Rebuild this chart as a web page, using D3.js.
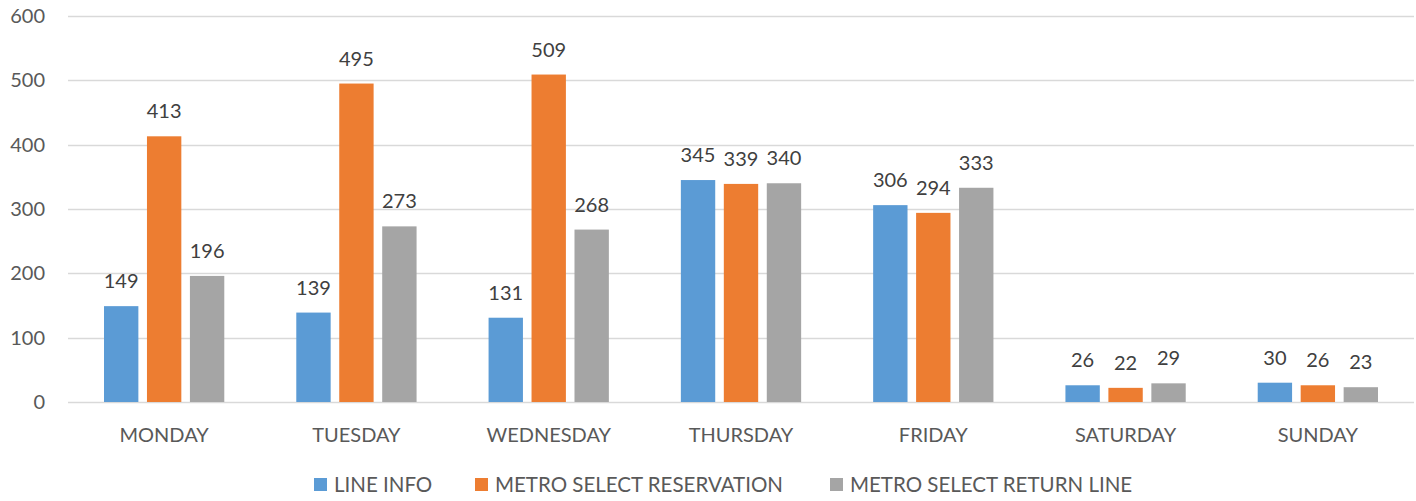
<!DOCTYPE html>
<html>
<head>
<script src="https://d3js.org/d3.v7.min.js"></script>
<style>
  body { margin: 0; background: #fff; }
  text { font-family: Lato, "Open Sans", sans-serif; }
</style>
</head>
<body>
<svg id="chart"></svg>
<script>
const days = ["MONDAY", "TUESDAY", "WEDNESDAY", "THURSDAY", "FRIDAY", "SATURDAY", "SUNDAY"];
const seriesNames = ["LINE INFO", "METRO SELECT RESERVATION", "METRO SELECT RETURN LINE"];
const lineInfo = [149, 139, 131, 345, 306, 26, 30];
const reservation = [413, 495, 509, 339, 294, 22, 26];
const returnLine = [196, 273, 268, 340, 333, 29, 23];
const yTicks = [0, 100, 200, 300, 400, 500, 600];
const colors = ["#5B9BD5", "#ED7D31", "#A5A5A5"];

const width = 1416, height = 501;
const margin = { top: 16, right: 2, bottom: 99, left: 68 };
const svg = d3.select("#chart").attr("width", width).attr("height", height);

const series = [lineInfo, reservation, returnLine];
const data = days.map((d, i) => ({ day: d, values: series.map((s, k) => ({ k, v: s[i] })) }));

const x = d3.scaleBand().domain(days).range([margin.left, width - margin.right]);
const x1 = d3.scaleBand().domain([0, 1, 2]).range([36, x.bandwidth() - 36]).paddingInner(0.2).paddingOuter(0);
const y = d3.scaleLinear().domain([0, 600]).range([height - margin.bottom, margin.top]);

// gridlines
svg.append("g")
  .selectAll("line")
  .data(yTicks)
  .join("line")
  .attr("x1", margin.left).attr("x2", width - margin.right)
  .attr("y1", d => Math.round(y(d)) + 0.5).attr("y2", d => Math.round(y(d)) + 0.5)
  .attr("stroke", "#d9d9d9").attr("stroke-width", 1.3);

// y axis labels
const yAxis = svg.append("g")
  .attr("transform", `translate(${margin.left - 23},0)`)
  .call(d3.axisLeft(y).tickValues(yTicks).tickSize(0).tickPadding(0));
yAxis.select(".domain").remove();
yAxis.selectAll("text").attr("fill", "#595959").style("font-size", "20px").style("font-family", "Lato, sans-serif");

// bars
const groups = svg.append("g")
  .selectAll("g")
  .data(data)
  .join("g")
  .attr("transform", d => `translate(${x(d.day)},0)`);

groups.selectAll("rect")
  .data(d => d.values)
  .join("rect")
  .attr("x", d => x1(d.k))
  .attr("y", d => y(d.v))
  .attr("width", x1.bandwidth())
  .attr("height", d => y(0) - y(d.v))
  .attr("fill", d => colors[d.k]);

groups.selectAll("text")
  .data(d => d.values)
  .join("text")
  .attr("x", d => x1(d.k) + x1.bandwidth() / 2)
  .attr("y", d => y(d.v) - 18)
  .attr("text-anchor", "middle")
  .attr("fill", "#404040")
  .style("font-size", "20px")
  .text(d => d.v);

// x axis labels
const xAxis = svg.append("g")
  .attr("transform", `translate(0,${y(0)})`)
  .call(d3.axisBottom(x).tickSize(0));
xAxis.select(".domain").remove();
xAxis.selectAll("text")
  .attr("y", 40).attr("dy", 0)
  .attr("fill", "#595959").style("font-size", "20px").style("font-family", "Lato, sans-serif");

// legend
const legendX = [314, 475, 830];
const legend = svg.append("g")
  .selectAll("g")
  .data(seriesNames)
  .join("g")
  .attr("transform", (d, i) => `translate(${legendX[i]},478)`);
legend.append("rect").attr("width", 13).attr("height", 13).attr("fill", (d, i) => colors[i]);
legend.append("text")
  .attr("x", 20).attr("y", 14)
  .attr("fill", "#595959")
  .style("font-size", "20.5px")
  .text(d => d);
</script>
</body>
</html>
